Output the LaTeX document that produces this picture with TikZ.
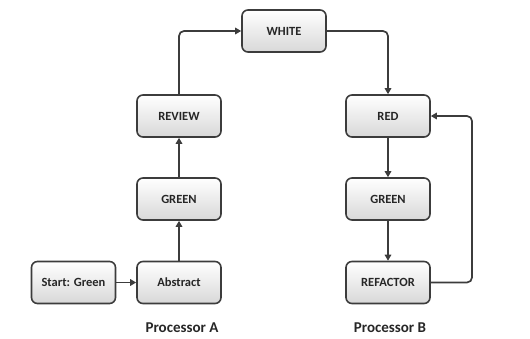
\documentclass[tikz,border=0pt]{standalone}
\usepackage{fontspec}
\setmainfont{Carlito}
\usetikzlibrary{arrows.meta}
\definecolor{edge}{HTML}{3C3C3C}
\definecolor{boxbot}{HTML}{D8D8D8}
\tikzset{
  box/.style={draw=edge, line width=1.6pt, rounded corners=6pt,
    top color=white, bottom color=boxbot, minimum width=84pt, minimum height=42pt,
    inner sep=0pt, font=\bfseries\fontsize{12.5}{14}\selectfont, text=black!85},
  conn/.style={draw=edge, line width=1.7pt, rounded corners=5pt,
    -{Triangle[length=6pt,width=6.5pt]}},
  lbl/.style={font=\bfseries\fontsize{15}{17}\selectfont, text=black!85, inner sep=0pt}
}
\begin{document}
\begin{tikzpicture}[x=1pt,y=-1pt]
\useasboundingbox (0,0) rectangle (530,338);
\node[box] (start) at (73.5,282.5) {Start: Green};
\node[box] (abs) at (179,282.5) {Abstract};
\node[box] (greenA) at (179,199) {GREEN};
\node[box] (review) at (179,116) {REVIEW};
\node[box] (white) at (284,31) {WHITE};
\node[box] (red) at (388,116) {RED};
\node[box] (greenB) at (388,199) {GREEN};
\node[box] (refactor) at (388,282.5) {REFACTOR};
\node[lbl] (pa) at (182,328) {Processor A};
\node[lbl] (pb) at (390,328) {Processor B};
\coordinate (c1) at (472,282.5);
\coordinate (c2) at (472,116);
\draw[conn] (start) -- (abs);
\draw[conn] (abs) -- (greenA);
\draw[conn] (greenA) -- (review);
\draw[conn] (review.north) |- (white.west);
\draw[conn] (white.east) -| (red.north);
\draw[conn] (red) -- (greenB);
\draw[conn] (greenB) -- (refactor);
\draw[conn] (refactor.east) -- (c1) -- (c2) -- (red.east);
\end{tikzpicture}
\end{document}
